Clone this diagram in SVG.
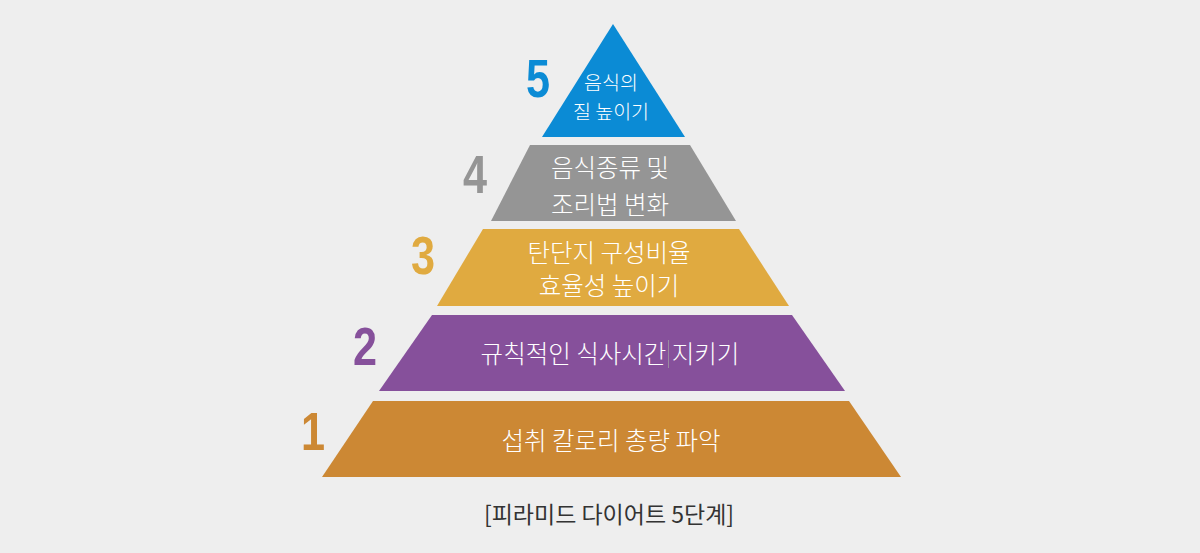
<svg xmlns="http://www.w3.org/2000/svg" width="1200" height="553" viewBox="0 0 1200 553">
<style>
.lbl{font-family:"Noto Sans CJK KR","Noto Sans",sans-serif;fill:#ffffff;text-anchor:middle;font-size:24.5px;font-weight:300}
.num{font-family:"Liberation Sans",Arial,sans-serif;font-weight:bold;font-size:54px;text-anchor:middle}
.cap{font-family:"Noto Sans CJK KR","Noto Sans",sans-serif;fill:#333333;text-anchor:middle;font-size:23px;font-weight:400}
</style>
<rect width="1200" height="553" fill="#eeeeee"/>
<g id="level5">
<polygon points="613,24 685,137 542,137" fill="#0b8bd5"/>
<text class="num" fill="#0b8bd5" transform="translate(538,97) scale(0.8,1)">5</text>
<text class="lbl" style="font-size:19.5px" x="611" y="90">음식의</text>
<text class="lbl" style="font-size:19.5px" x="611" y="118.5">질 높이기</text>
</g>
<g id="level4">
<polygon points="530,145 690,145 736,221 491,221" fill="#959595"/>
<text class="num" fill="#959595" transform="translate(475,193) scale(0.8,1)">4</text>
<text class="lbl" x="610" y="177">음식종류 및</text>
<text class="lbl" x="610" y="214">조리법 변화</text>
</g>
<g id="level3">
<polygon points="483,229 739,229 789,306 437,306" fill="#e0aa40"/>
<text class="num" fill="#e0aa40" transform="translate(423,274) scale(0.8,1)">3</text>
<text class="lbl" x="609" y="262">탄단지 구성비율</text>
<text class="lbl" x="609" y="295">효율성 높이기</text>
</g>
<g id="level2">
<polygon points="432,315 792,315 845,391 379,391" fill="#86509b"/>
<text class="num" fill="#86509b" transform="translate(365,365) scale(0.8,1)">2</text>
<text class="lbl" x="610" y="363">규칙적인 식사시간 지키기</text>
<line x1="668.5" y1="340" x2="668.5" y2="368" stroke="#9a8aa0" stroke-width="1"/>
</g>
<g id="level1">
<polygon points="373,401 849,401 901,477 322,477" fill="#cc8834"/>
<text class="num" fill="#cc8834" transform="translate(313,450) scale(0.8,1)">1</text>
<text class="lbl" x="611" y="450">섭취 칼로리 총량 파악</text>
</g>
<g id="caption">
<text class="cap" x="609" y="523">[피라미드 다이어트 5단계]</text>
</g>
<g id="connectors"/>
</svg>
